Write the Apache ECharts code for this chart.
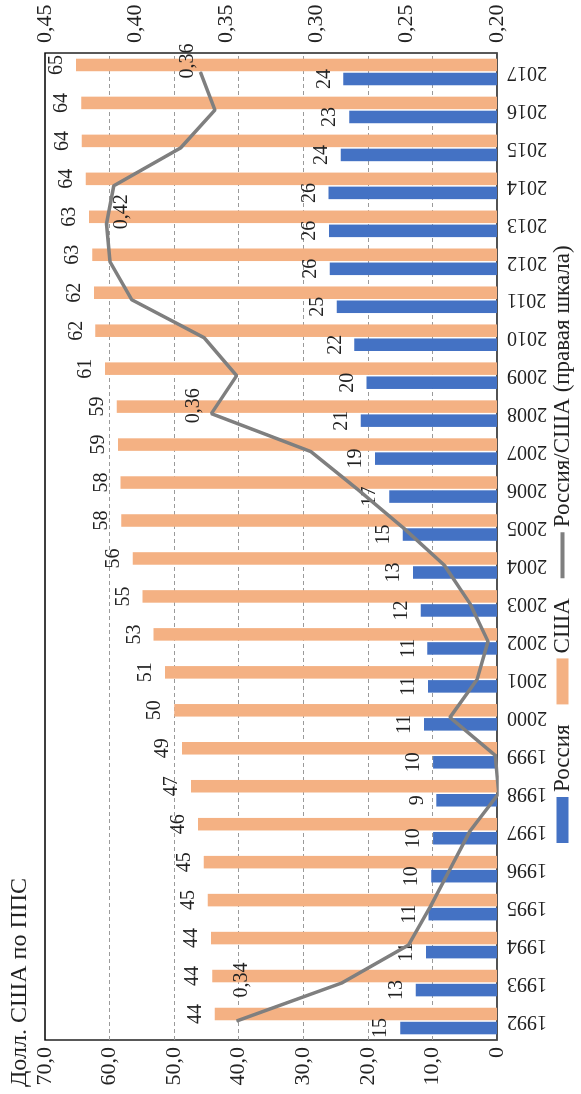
<!DOCTYPE html>
<html>
<head>
<meta charset="utf-8">
<script src="https://cdn.jsdelivr.net/npm/echarts@6/dist/echarts.min.js"></script>
<style>
  html, body { margin: 0; padding: 0; width: 581px; height: 1094px; overflow: hidden; background: #fff; }
  /* The chart is laid out landscape and turned a quarter turn counter-clockwise onto the page */
  #chart {
    position: absolute; left: 0; top: 0;
    width: 1094px; height: 581px;
    transform-origin: 0 0;
    transform: translateY(1094px) rotate(-90deg);
  }
</style>
</head>
<body>
<div id="chart"></div>
<script>
// GDP per hour worked, USD at PPP
const years = ['1992','1993','1994','1995','1996','1997','1998','1999','2000','2001','2002','2003','2004',
               '2005','2006','2007','2008','2009','2010','2011','2012','2013','2014','2015','2016','2017'];
const russia = [15.0, 12.6, 11.0, 10.6, 10.2, 9.9, 9.4, 9.9, 11.3, 10.7, 10.8, 11.8, 13.0,
                14.6, 16.7, 18.9, 21.1, 20.2, 22.1, 24.8, 25.9, 26.0, 26.1, 24.2, 22.9, 23.8];
const usa = [43.7, 44.1, 44.3, 44.8, 45.4, 46.3, 47.4, 48.8, 50.0, 51.4, 53.2, 54.9, 56.4,
             58.2, 58.3, 58.7, 58.9, 60.7, 62.2, 62.4, 62.7, 63.2, 63.7, 64.3, 64.4, 65.2];
// Russia / USA ratio (right scale)
const ratio = [0.344, 0.286, 0.249, 0.237, 0.226, 0.215, 0.199, 0.201, 0.226, 0.211, 0.205, 0.215, 0.229,
               0.252, 0.277, 0.303, 0.358, 0.344, 0.362, 0.402, 0.414, 0.416, 0.412, 0.375, 0.356, 0.364];
const ratioLabelYears = ['1992', '2008', '2013', '2017'];

const seriesNames = ['Россия', 'США', 'Россия/США (правая шкала)'];
const axisName = 'Долл. США по ППС';

// where each ratio label sits relative to its point
const ratioLabelOffsets = { '1992': [23, 5], '2008': [-10, -18], '2013': [-6, 15], '2017': [-7, -13] };

const FONT = "'Liberation Serif', 'Times New Roman', serif";
const TEXT = '#222';

const ratioData = ratio.map((v, i) => {
  const y = years[i];
  if (ratioLabelYears.indexOf(y) < 0) return v;
  return {
    value: v,
    label: { show: true, position: 'right', distance: 0, offset: ratioLabelOffsets[y] }
  };
});

const chart = echarts.init(document.getElementById('chart'), null, { renderer: 'canvas' });
chart.setOption({
  animation: false,
  backgroundColor: '#fff',
  title: {
    text: axisName, left: 2, top: 3,
    textStyle: { fontFamily: FONT, fontSize: 24, fontWeight: 'normal', color: TEXT }
  },
  grid: {
    left: 54, right: 53, top: 45, bottom: 84,
    show: true, borderColor: '#000', borderWidth: 1.3, backgroundColor: 'transparent'
  },
  legend: {
    left: 246, top: 546,
    itemWidth: 46, itemHeight: 12, itemGap: 20,
    textStyle: { fontFamily: FONT, fontSize: 23, color: TEXT },
    data: [
      { name: seriesNames[0], icon: 'rect' },
      { name: seriesNames[1], icon: 'rect' },
      { name: seriesNames[2], icon: 'path://M0,0 L46,0 L46,4 L0,4 Z' }
    ]
  },
  xAxis: {
    type: 'category', data: years, boundaryGap: true,
    axisLine: { show: true, lineStyle: { color: '#595959', width: 1.5 } },
    axisTick: { show: false },
    axisLabel: { rotate: 90, margin: 10, fontFamily: FONT, fontSize: 20, color: TEXT, interval: 0 }
  },
  yAxis: [
    {
      type: 'value', min: 0, max: 70, interval: 10,
      axisLine: { show: false }, axisTick: { show: false },
      splitLine: { show: true, showMinLine: false, showMaxLine: false,
                   lineStyle: { type: [4, 3], color: '#9a9a9a', width: 1 } },
      axisLabel: {
        margin: 7, fontFamily: FONT, fontSize: 22, color: TEXT,
        formatter: v => v === 0 ? '0' : v.toFixed(1).replace('.', ',')
      }
    },
    {
      type: 'value', min: 0.2, max: 0.45, interval: 0.05, position: 'right',
      axisLine: { show: false }, axisTick: { show: false }, splitLine: { show: false },
      axisLabel: {
        margin: 10, fontFamily: FONT, fontSize: 22, color: TEXT,
        formatter: v => v.toFixed(2).replace('.', ',')
      }
    }
  ],
  series: [
    {
      name: seriesNames[0], type: 'bar', data: russia,
      barCategoryGap: '30%', barGap: '12%',
      itemStyle: { color: '#4472C4' },
      label: { show: true, position: 'top', distance: 9, fontFamily: FONT, fontSize: 20, color: TEXT,
               formatter: p => Math.round(p.value) }
    },
    {
      name: seriesNames[1], type: 'bar', data: usa,
      barCategoryGap: '30%', barGap: '12%',
      itemStyle: { color: '#F4B183' },
      label: { show: true, position: 'top', distance: 9, fontFamily: FONT, fontSize: 20, color: TEXT,
               formatter: p => Math.round(p.value) }
    },
    {
      name: seriesNames[2], type: 'line', yAxisIndex: 1, data: ratioData,
      symbol: 'circle', symbolSize: 1, showSymbol: true, z: 5,
      lineStyle: { color: '#7F7F7F', width: 3.5 },
      itemStyle: { color: '#7F7F7F' },
      label: { show: false, fontFamily: FONT, fontSize: 20, color: TEXT,
               formatter: p => p.value.toFixed(2).replace('.', ',') }
    }
  ]
});
</script>
</body>
</html>
